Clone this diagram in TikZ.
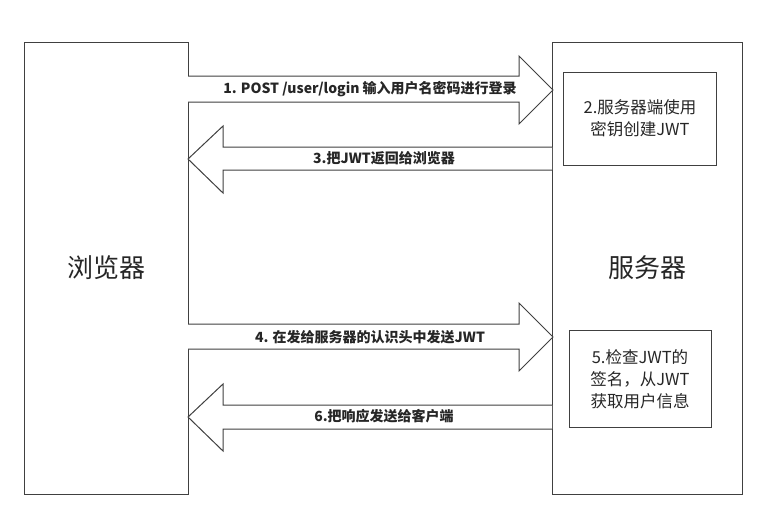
\documentclass[tikz,border=0pt]{standalone}
\usepackage{fontspec}
\setmainfont{Noto Sans CJK SC}
\begin{document}
\begin{tikzpicture}[x=1pt,y=-1pt,
  box/.style={draw=black!75,line width=1pt},
  blk/.style={draw=black!75,line width=1pt,fill=white},
  lbl/.style={font=\bfseries\fontsize{14}{16}\selectfont,text=black!85},
  big/.style={font=\fontsize{26}{30}\selectfont,text=black!85},
  small/.style={font=\fontsize{16.5}{22}\selectfont,text=black!85,align=center}]
\useasboundingbox (0,0) rectangle (783,531);
\draw[box] (24,42) rectangle (188,494);
\draw[box] (552,42) rectangle (742,494);
\node[big] (browser) at (106,268) {浏览器};
\node[big] (server) at (647,268) {服务器};
\draw[box] (563,72) rectangle (716,165);
\node[small] (s2) at (640,118) {2.服务器端使用\\密钥创建JWT};
\draw[box] (569,330) rectangle (711,427);
\node[small] (s5) at (640,379) {5.检查JWT的\\签名，从JWT\\获取用户信息};
% arrow 1
\draw[blk] (188,76) -- (519,76) -- (519,56) -- (553,90) -- (519,124) -- (519,102) -- (188,102);
\node[lbl] (a1) at (370,89) {1. POST /user/login 输入用户名密码进行登录};
% arrow 3
\draw[blk] (552,147) -- (223,147) -- (223,126) -- (188,159) -- (223,193) -- (223,170) -- (552,170);
\node[lbl] (a3) at (384,158) {3.把JWT返回给浏览器};
% arrow 4
\draw[blk] (188,324) -- (519,324) -- (519,303) -- (553,337) -- (519,371) -- (519,349) -- (188,349);
\node[lbl] (a4) at (370,337) {4. 在发给服务器的认识头中发送JWT};
% arrow 6
\draw[blk] (552,405) -- (223,405) -- (223,384) -- (188,417) -- (223,451) -- (223,429) -- (552,429);
\node[lbl] (a6) at (384,416) {6.把响应发送给客户端};
\end{tikzpicture}
\end{document}
